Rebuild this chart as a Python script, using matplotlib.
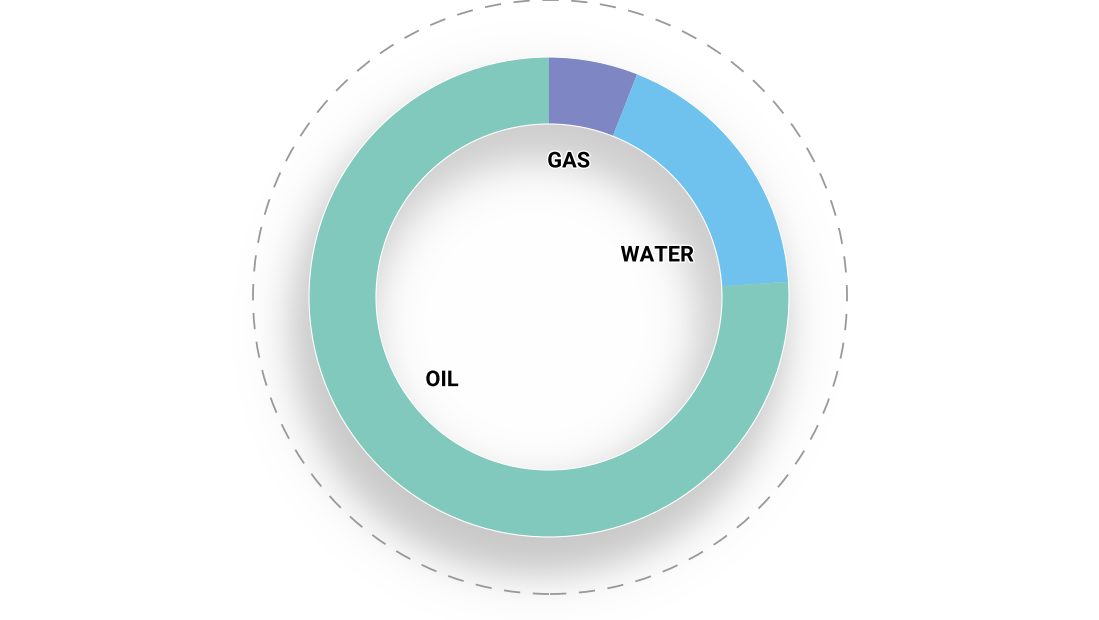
import numpy as np
import matplotlib
matplotlib.use("Agg")
import matplotlib.pyplot as plt
import matplotlib.patheffects as pe
from matplotlib.patches import Circle

# data
labels = ["GAS", "WATER", "OIL"]
values = [6, 18, 76]
colors = ["#7E86C4", "#70C2EE", "#81C9BC"]

W, H = 1099, 620
cx, cy = 549, 323          # centre (pixel units, y up)
r_out, r_in = 240, 173

plt.rcParams["font.family"] = ["Roboto", "DejaVu Sans"]

fig = plt.figure(figsize=(W / 100, H / 100), dpi=100)
ax = fig.add_axes([0, 0, 1, 1])

# shadows: soft drop shadow under the ring and inner shadow in the hole
xx, yy = np.meshgrid(np.arange(W) + 0.5, np.arange(H) + 0.5)
sig = lambda t: 1 / (1 + np.exp(-t))

d_out = np.hypot(xx - (cx - 10), yy - (cy - 30))
a_out = 0.22 * (1 - sig((d_out - 248) / 12))

d_hole = np.hypot(xx - cx, yy - cy)
d_in = np.hypot(xx - (cx - 14), yy - (cy - 26))
g_in = 1 - 0.20 * sig((d_in - (r_in - 12)) / 13)

img = np.zeros((H, W, 4))
img[..., :3] = 0.6
img[..., 3] = a_out / 0.4
hole = d_hole < r_in + 1
img[hole, 0] = g_in[hole]
img[hole, 1] = g_in[hole]
img[hole, 2] = g_in[hole]
img[hole, 3] = 1
img[..., 3] = np.clip(img[..., 3], 0, 1)
ax.imshow(img, extent=(0, W, 0, H), origin="lower", zorder=1, interpolation="bilinear")

wedges, _ = ax.pie(values, colors=colors, startangle=90, counterclock=False,
                   radius=r_out, center=(cx, cy),
                   wedgeprops=dict(width=r_out - r_in, linewidth=0))
for w in wedges:
    w.set_zorder(2)

for r in (r_out, r_in):
    ax.add_patch(Circle((cx, cy), r, fill=False, edgecolor="white", lw=0.8, zorder=3))

# dashed outer guide circle
ax.add_patch(Circle((cx + 1, cy), 297, fill=False, edgecolor="#999999",
                    lw=1.3, linestyle=(0, (9, 7)), zorder=3))

# labels inside the hole
label_r = [137, 120, 136]
label_nudge = [(-6, 1), (11, -29), (-14, 16)]
cum = np.cumsum([0] + values[:-1])
for lab, v, c0, lr, (nx, ny) in zip(labels, values, cum, label_r, label_nudge):
    ang = np.deg2rad((c0 + v / 2) / sum(values) * 360)
    ax.text(cx + lr * np.sin(ang) + nx, cy + lr * np.cos(ang) + ny, lab,
            ha="center", va="center", fontsize=15.7, fontweight="bold", color="black",
            zorder=5, path_effects=[pe.withStroke(linewidth=2, foreground="white")])

ax.set_xlim(0, W)
ax.set_ylim(0, H)
ax.set_aspect("equal")
ax.axis("off")

fig.savefig("out.png", dpi=100)
